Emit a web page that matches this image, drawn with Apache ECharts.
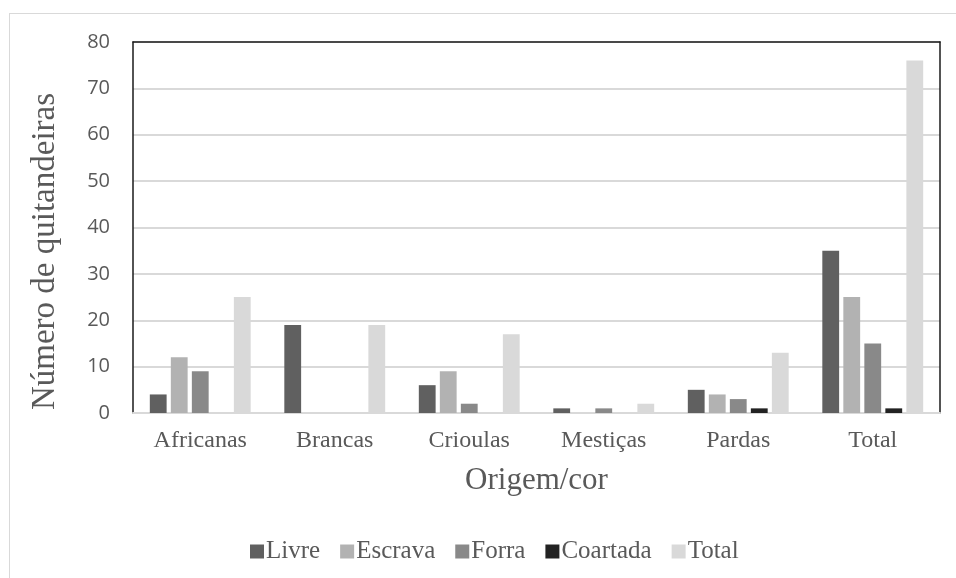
<!DOCTYPE html>
<html>
<head>
<meta charset="utf-8">
<script src="https://cdn.jsdelivr.net/npm/echarts@6/dist/echarts.min.js"></script>
<style>
  html, body { margin: 0; padding: 0; background: #ffffff; }
  #frame { position: absolute; left: 9px; top: 13px; width: 1000px; height: 600px;
           border-left: 1px solid #d9d9d9; border-top: 1px solid #d9d9d9; }
  #chart { position: absolute; left: 0; top: 0; width: 956px; height: 578px; }
</style>
</head>
<body>
<div id="frame"></div>
<div id="chart"></div>
<script>
// Origem/cor das quitandeiras, por condição jurídica
const categories = ['Africanas', 'Brancas', 'Crioulas', 'Mestiças', 'Pardas', 'Total'];
const seriesNames = ['Livre', 'Escrava', 'Forra', 'Coartada', 'Total'];
const livre    = [4, 19, 6, 1, 5, 35];
const escrava  = [12, 0, 9, 0, 4, 25];
const forra    = [9, 0, 2, 1, 3, 15];
const coartada = [0, 0, 0, 0, 1, 1];
const total    = [25, 19, 17, 2, 13, 76];
const yTicks   = [0, 10, 20, 30, 40, 50, 60, 70, 80];

const values = [livre, escrava, forra, coartada, total];
const colors = ['#606060', '#b2b2b2', '#898989', '#222222', '#d9d9d9'];

const serif = '"Liberation Serif", "Times New Roman", serif';
const sans = '"Open Sans", "Noto Sans", sans-serif';

const chart = echarts.init(document.getElementById('chart'), null, { renderer: 'canvas' });

chart.setOption({
  animation: false,
  backgroundColor: 'transparent',
  grid: { left: 133, top: 42, right: 16, bottom: 165, containLabel: false },
  legend: {
    data: seriesNames,
    left: 250,
    top: 539,
    padding: 0,
    itemWidth: 14,
    itemHeight: 14,
    itemGap: 20,
    icon: 'rect',
    textStyle: { fontFamily: serif, fontSize: 25, color: '#595959', padding: [0, 0, 0, -3] }
  },
  xAxis: [
    {
      type: 'category',
      data: categories,
      position: 'bottom',
      axisLine: { show: true, onZero: false, lineStyle: { color: '#d9d9d9', width: 2 } },
      axisTick: { show: false },
      axisLabel: { fontFamily: serif, fontSize: 24, color: '#595959', margin: 16 },
      name: 'Origem/cor',
      nameLocation: 'middle',
      nameGap: 52,
      nameTextStyle: { fontFamily: serif, fontSize: 31, color: '#595959' }
    },
    {
      type: 'category',
      data: categories,
      position: 'top',
      axisLine: { show: true, onZero: false, lineStyle: { color: '#1a1a1a', width: 1.5 } },
      axisTick: { show: false },
      axisLabel: { show: false }
    }
  ],
  yAxis: [
    {
      type: 'value',
      min: yTicks[0],
      max: yTicks[yTicks.length - 1],
      interval: yTicks[1] - yTicks[0],
      axisLine: { show: true, onZero: false, lineStyle: { color: '#1a1a1a', width: 1.5 } },
      axisTick: { show: false },
      axisLabel: { fontFamily: sans, fontSize: 20, color: '#595959', margin: 23 },
      splitLine: { show: true, lineStyle: { color: '#d9d9d9', width: 2 } },
      name: 'Número de quitandeiras',
      nameLocation: 'middle',
      nameGap: 71,
      nameTextStyle: { fontFamily: serif, fontSize: 33, color: '#595959', padding: [0, 48, 0, 0] }
    },
    {
      type: 'value',
      position: 'right',
      min: yTicks[0],
      max: yTicks[yTicks.length - 1],
      interval: yTicks[1] - yTicks[0],
      axisLine: { show: true, onZero: false, lineStyle: { color: '#1a1a1a', width: 1.5 } },
      axisTick: { show: false },
      axisLabel: { show: false },
      splitLine: { show: false }
    }
  ],
  series: seriesNames.map((name, i) => ({
    name: name,
    type: 'bar',
    data: values[i],
    barGap: '25%',
    barCategoryGap: '25%',
    itemStyle: { color: colors[i] }
  }))
});
</script>
</body>
</html>
